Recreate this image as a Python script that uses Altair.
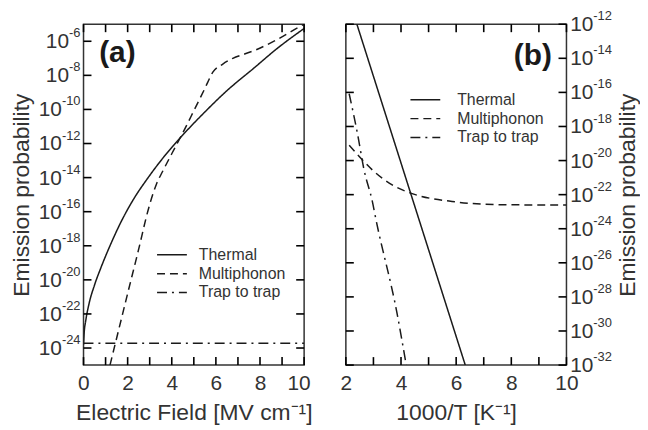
import altair as alt
import pandas as pd

FONT = "Liberation Sans"
INK = "#1a1a1a"
GREY = "#333333"

SERIES = ["Thermal", "Multiphonon", "Trap to trap"]
DASHES = [[1, 0], [8, 5], [10, 5, 2, 5]]

# ---- panel (a): emission probability vs electric field (log10 values) ----
a_thermal_x = [0, 0.03, 0.1, 0.25, 0.5, 0.8, 1.2, 1.7, 2.3, 2.93, 3.6, 4.5, 5.5, 6.5, 7.7, 8.8, 10]
a_thermal_log = [-23.8, -23.1, -22.4, -21.4, -20.3, -19.25, -18.0, -16.6, -15.2, -14.0, -12.85, -11.5, -10.15, -8.9, -7.6, -6.4, -5.25]
a_multi_x = [1.2, 1.6, 2.0, 2.5, 2.93, 3.3, 3.6, 4.0, 4.43, 5.0, 5.5, 5.87, 6.3, 6.77, 7.3, 7.82, 8.72, 9.77, 10]
a_multi_log = [-25, -22.9, -20.8, -18.2, -15.9, -14.4, -13.6, -12.6, -11.55, -10.08, -8.77, -7.8, -7.35, -7.0, -6.75, -6.5, -5.94, -5.16, -5.0]
a_trap_x = [0, 10]
a_trap_log = [-23.72, -23.72]

# ---- panel (b): emission probability vs 1000/T (log10 values) ----
b_thermal_x = [2.4, 6.33]
b_thermal_log = [-12, -32]
b_multi_x = [2.12, 2.66, 2.96, 3.68, 4.28, 5.85, 7.65, 10]
b_multi_log = [-19.1, -20.06, -20.55, -21.43, -21.87, -22.4, -22.59, -22.61]
b_trap_x = [2.12, 2.42, 2.66, 2.96, 3.08, 3.86, 4.19]
b_trap_log = [-16.08, -18.41, -20.55, -22.4, -23.37, -29.0, -32]

a_x_ticks = [0, 1, 2, 3, 4, 5, 6, 7, 8, 9, 10]
b_x_ticks = [2, 3, 4, 5, 6, 7, 8, 9, 10]
a_exponents = [-6, -8, -10, -12, -14, -16, -18, -20, -22, -24]
b_exponents = [-12, -14, -16, -18, -20, -22, -24, -26, -28, -30, -32]

W, H = 222, 343
TICK = 8


def long_table(parts):
    rows = []
    for name, xs, logs in parts:
        for x, l in zip(xs, logs):
            rows.append({"series": name, "x": x, "p": 10.0 ** l})
    return pd.DataFrame(rows)


def label_table(exps):
    return pd.DataFrame({"p": [10.0 ** e for e in exps],
                         "base": ["10"] * len(exps),
                         "sup": [str(e) for e in exps]})


def panel(df, xdom, ydom, xticks, exps, xtitle, side, letter, letter_x, letter_log,
          letter_align, legend_x, legend_y, label_offset, flush):
    xs = alt.Scale(domain=xdom, nice=False, zero=False)
    ys = alt.Scale(type="log", domain=ydom, nice=False)
    base = alt.Chart(df)

    if side == "left":
        ytitle_axis = alt.Axis(orient="left", labels=False, ticks=False, domain=False, grid=False,
                               title="Emission probability", titlePadding=50)
    else:
        ytitle_axis = alt.Axis(orient="right", labels=False, ticks=False, domain=False, grid=False,
                               title="Emission probability", titlePadding=50, titleAngle=270,
                               titleBaseline="top")

    xaxis_kw = dict(orient="bottom", values=xticks,
                    labelExpr="datum.value % 2 == 0 ? datum.label : ''",
                    ticks=False, domain=False, grid=False, title=xtitle,
                    labelPadding=8, titlePadding=8)
    if flush:
        xaxis_kw.update(labelFlush=True, labelFlushOffset=6)
    else:
        xaxis_kw.update(labelFlush=False)

    lines = base.mark_line(color=INK, strokeWidth=1.5, clip=True, interpolate="monotone").encode(
        x=alt.X("x:Q", scale=xs, axis=alt.Axis(**xaxis_kw)),
        y=alt.Y("p:Q", scale=ys, axis=ytitle_axis),
        strokeDash=alt.StrokeDash(
            "series:N", scale=alt.Scale(domain=SERIES, range=DASHES),
            legend=alt.Legend(title=None, orient="none", legendX=legend_x, legendY=legend_y,
                              symbolType="M-3,0L3,0", symbolSize=100, symbolStrokeWidth=1.5,
                              symbolStrokeColor=INK, labelFontSize=16, labelFont=FONT,
                              labelColor=GREY, labelOffset=label_offset, rowPadding=3,
                              padding=0)),
    )

    # inward-pointing tick marks on all four edges
    xt = alt.Chart(pd.DataFrame({"x": xticks}))
    yt = alt.Chart(pd.DataFrame({"p": [10.0 ** e for e in exps]}))
    tick_layers = [
        xt.mark_rule(color="black", strokeWidth=1.6).encode(
            x=alt.X("x:Q", scale=xs, axis=None), y=alt.value(H), y2=alt.value(H - TICK)),
        xt.mark_rule(color="black", strokeWidth=1.6).encode(
            x=alt.X("x:Q", scale=xs, axis=None), y=alt.value(0), y2=alt.value(TICK)),
        yt.mark_rule(color="black", strokeWidth=1.6).encode(
            y=alt.Y("p:Q", scale=ys, axis=None), x=alt.value(0), x2=alt.value(TICK)),
        yt.mark_rule(color="black", strokeWidth=1.6).encode(
            y=alt.Y("p:Q", scale=ys, axis=None), x=alt.value(W), x2=alt.value(W - TICK)),
    ]

    lab = alt.Chart(label_table(exps))
    layers = [lines] + tick_layers
    if side == "left":
        sup = lab.mark_text(align="right", baseline="middle", fontSize=13, dy=-8,
                            font=FONT, color=GREY).encode(
            y=alt.Y("p:Q", scale=ys, axis=None), x=alt.value(-3), text="sup:N")
        layers.append(sup)
        for nchar, w in [(2, 11.6), (3, 18.8)]:
            layers.append(
                lab.transform_filter(f"length(datum.sup) == {nchar}").mark_text(
                    align="right", baseline="middle", fontSize=21, dy=1, font=FONT,
                    color=GREY).encode(
                    y=alt.Y("p:Q", scale=ys, axis=None), x=alt.value(-3 - w), text="base:N"))
    else:
        layers.append(lab.mark_text(align="left", baseline="middle", fontSize=21, dy=1,
                                    font=FONT, color=GREY).encode(
            y=alt.Y("p:Q", scale=ys, axis=None), x=alt.value(W + 3.7), text="base:N"))
        layers.append(lab.mark_text(align="left", baseline="middle", fontSize=13, dy=-8,
                                    font=FONT, color=GREY).encode(
            y=alt.Y("p:Q", scale=ys, axis=None), x=alt.value(W + 27), text="sup:N"))

    letter_df = pd.DataFrame({"x": [letter_x], "p": [10.0 ** letter_log], "t": [letter]})
    layers.append(alt.Chart(letter_df).mark_text(
        align=letter_align, baseline="alphabetic", fontSize=30, fontWeight="bold",
        font=FONT, color=INK).encode(
        x=alt.X("x:Q", scale=xs, axis=None), y=alt.Y("p:Q", scale=ys, axis=None), text="t:N"))

    return alt.layer(*layers).resolve_scale(
        x="independent", y="independent"
    ).resolve_axis(x="independent", y="independent").properties(width=W, height=H)


df_a = long_table([("Thermal", a_thermal_x, a_thermal_log),
                   ("Multiphonon", a_multi_x, a_multi_log),
                   ("Trap to trap", a_trap_x, a_trap_log)])
df_b = long_table([("Thermal", b_thermal_x, b_thermal_log),
                   ("Multiphonon", b_multi_x, b_multi_log),
                   ("Trap to trap", b_trap_x, b_trap_log)])

pa = panel(df_a, [0, 10], [1e-25, 1e-5], a_x_ticks, a_exponents,
           "Electric Field [MV cm\u207b\u00b9]", "left", "(a)", 0.71, -7.24, "left",
           81, 224, 19, True)
pb = panel(df_b, [2, 10], [1e-32, 1e-12], b_x_ticks, b_exponents,
           "1000/T [K\u207b\u00b9]", "right", "(b)", 9.47, -14.4, "right",
           72, 68, 24, False)

chart = alt.hconcat(pa, pb, spacing=42, bounds="flush").resolve_scale(
    strokeDash="independent"
).properties(
    padding={"left": 2, "top": 0, "right": 0, "bottom": 0}
).configure_view(
    stroke=GREY, strokeWidth=1.5
).configure_axis(
    labelFont=FONT, titleFont=FONT, labelFontSize=21, titleFontSize=23,
    labelColor=GREY, titleColor=GREY, titleFontWeight="normal"
)

chart.save("out.html", embed_options={"renderer": "svg", "actions": False})
